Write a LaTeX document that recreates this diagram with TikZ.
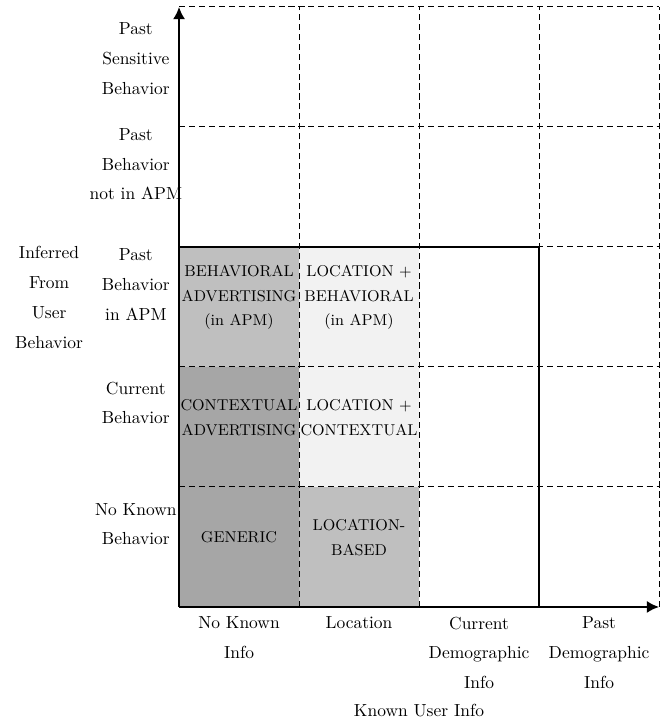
\documentclass[tikz,border=0pt]{standalone}
\usepackage{tikz}
\usetikzlibrary{arrows.meta, positioning, calc}

\begin{document}
\begin{tikzpicture}[x=68.75pt, y=68.75pt,
  cell/.style={align=center, font=\small\linespread{1.3}\selectfont},
  lab/.style={align=center, font=\linespread{1.43}\selectfont},
  collab/.style={lab, anchor=north},
  grd/.style={dash pattern=on 3.5pt off 2.2pt, line width=0.6pt},
  ax/.style={-{Latex[length=7pt,width=7pt]}, line width=1.2pt}]
  \useasboundingbox (-1.492,-0.967) rectangle (4.008,5.058);
  \coordinate (o) at (0,0);
  \coordinate (xend) at (4,0);
  \coordinate (yend) at (0,5);
  % shaded cells first, then the grid over them
  \fill[black!35] (0,0) rectangle (1,2);
  \fill[black!25] (0,2) rectangle (1,3);
  \fill[black!25] (1,0) rectangle (2,1);
  \fill[black!5] (1,1) rectangle (2,3);
  \foreach \i in {1,...,4} \draw[grd] (\i,0) -- (\i,5);
  \foreach \j in {1,...,5} \draw[grd] (0,\j) -- (4,\j);
  \draw[line width=1.2pt] (0,3) -- (3,3) -- (3,0);
  \draw[ax] (o) -- (xend);
  \draw[ax] (o) -- (yend);
  \node[cell] (gen) at (0.5,0.58) {GENERIC};
  \node[cell] (ctx) at (0.5,1.58) {CONTEXTUAL\\ADVERTISING};
  \node[cell] (beh) at (0.5,2.58) {BEHAVIORAL\\ADVERTISING\\(in APM)};
  \node[cell] (loc) at (1.5,0.58) {LOCATION-\\BASED};
  \node[cell] (locctx) at (1.5,1.58) {LOCATION +\\CONTEXTUAL};
  \node[cell] (locbeh) at (1.5,2.58) {LOCATION +\\BEHAVIORAL\\(in APM)};
  \node[lab] (rSens) at (-0.36,4.57) {Past\\Sensitive\\Behavior};
  \node[lab] (rOut) at (-0.36,3.69) {Past\\Behavior\\not in APM};
  \node[lab] (rApm) at (-0.36,2.69) {Past\\Behavior\\in APM};
  \node[lab] (rCur) at (-0.36,1.70) {Current\\Behavior};
  \node[lab] (rNone) at (-0.36,0.69) {No Known\\Behavior};
  \node[lab] (ylab) at (-1.083,2.58) {Inferred\\From\\User\\Behavior};
  \node[collab] (cNone) at (0.5,-0.03) {No Known\\Info};
  \node[collab] (cLoc) at (1.5,-0.03) {Location};
  \node[collab] (cCur) at (2.5,-0.03) {Current\\Demographic\\Info};
  \node[collab] (cPast) at (3.5,-0.03) {Past\\Demographic\\Info};
  \node[lab] (xlab) at (2,-0.86) {Known User Info};
\end{tikzpicture}
\end{document}
